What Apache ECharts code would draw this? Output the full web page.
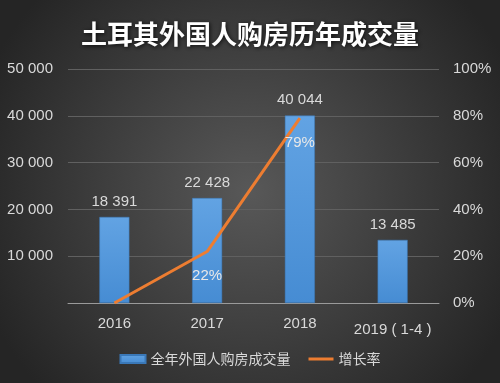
<!DOCTYPE html>
<html><head><meta charset="utf-8">
<script src="https://cdn.jsdelivr.net/npm/echarts@6/dist/echarts.min.js"></script>
<style>html,body{margin:0;padding:0;}#c{width:500px;height:383px;}</style>
</head><body><div id="c"></div>
<script>
var categories = ['2016', '2017', '2018', '2019 ( 1-4 )'];
var volumes = [18391, 22428, 40044, 13485];
var growth = [0, 22, 79];
var growthLabels = ['', '22%', '79%'];
var leftTicks = [0, 10000, 20000, 30000, 40000, 50000];
var rightTicks = [0, 20, 40, 60, 80, 100];

function fmt(v){ return String(v).replace(/\B(?=(\d{3})+(?!\d))/g, ' '); }

var chart = echarts.init(document.getElementById('c'));
var txt = '#d9d9d9';
chart.setOption({
  backgroundColor: {
    type: 'radial', x: 0.5, y: 0.5, r: 0.75,
    colorStops: [{offset: 0, color: '#585858'}, {offset: 1, color: '#252525'}]
  },
  title: {
    text: '土耳其外国人购房历年成交量', left: 'center', top: 16,
    textStyle: {color: '#ffffff', fontSize: 26, fontWeight: 'bold',
      fontFamily: 'Noto Sans CJK SC', textShadowColor: 'rgba(0,0,0,0.8)', textShadowBlur: 4, textShadowOffsetX: 1, textShadowOffsetY: 1}
  },
  grid: {left: 68, right: 61, top: 69, bottom: 80},
  legend: {
    bottom: 12, left: 'center', itemGap: 18, itemWidth: 25, itemHeight: 8,
    textStyle: {color: txt, fontSize: 14, fontFamily: 'Noto Sans CJK SC'},
    data: [{name: '全年外国人购房成交量', icon: 'rect'},
           {name: '增长率', icon: 'path://M0,0 H25 V3 H0 Z', itemStyle: {color: '#ed7d31', opacity: 1}}]
  },
  xAxis: {
    type: 'category', data: categories,
    axisLine: {lineStyle: {color: '#9a9a9a', width: 1}},
    axisTick: {show: false},
    axisLabel: {color: txt, fontSize: 15, margin: 13, interval: 0, fontFamily: 'Liberation Sans',
      formatter: function(v, i){ return i === 3 ? '{b|' + v + '}' : v; },
      rich: {b: {color: txt, fontSize: 15, fontFamily: 'Liberation Sans', padding: [6, 0, 0, 0]}}}
  },
  yAxis: [{
    type: 'value', min: leftTicks[0], max: leftTicks[leftTicks.length-1], interval: 10000,
    axisLine: {show: false}, axisTick: {show: false},
    splitLine: {lineStyle: {color: '#606060', width: 1}},
    axisLabel: {color: txt, fontSize: 15, margin: 15, fontFamily: 'Liberation Sans',
      formatter: function(v){ return v === 0 ? '' : fmt(v); }}
  }, {
    type: 'value', min: rightTicks[0], max: rightTicks[rightTicks.length-1], interval: 20,
    axisLine: {show: false}, axisTick: {show: false}, splitLine: {show: false},
    axisLabel: {color: txt, fontSize: 15, margin: 14, fontFamily: 'Liberation Sans', formatter: '{value}%'}
  }],
  series: [{
    name: '全年外国人购房成交量', type: 'bar', data: volumes, barWidth: 30,
    itemStyle: {
      color: {type: 'linear', x: 0, y: 0, x2: 0, y2: 1,
        colorStops: [{offset: 0, color: '#62a3e3'}, {offset: 1, color: '#468cd3'}]},
      borderColor: '#3a78b8', borderWidth: 0.5
    },
    label: {show: true, position: 'top', distance: 8, color: txt, fontSize: 15,
      fontFamily: 'Liberation Sans', formatter: function(p){ return fmt(p.value); }}
  }, {
    name: '增长率', type: 'line', yAxisIndex: 1, data: growth,
    symbol: 'circle', symbolSize: 0.01, showSymbol: true,
    lineStyle: {color: '#ed7d31', width: 3}, itemStyle: {color: '#ed7d31'},
    label: {show: true, position: 'bottom', distance: 17, color: '#e8e8e8', fontSize: 15,
      fontFamily: 'Liberation Sans', formatter: function(p){ return growthLabels[p.dataIndex]; }}
  }]
});
</script></body></html>
